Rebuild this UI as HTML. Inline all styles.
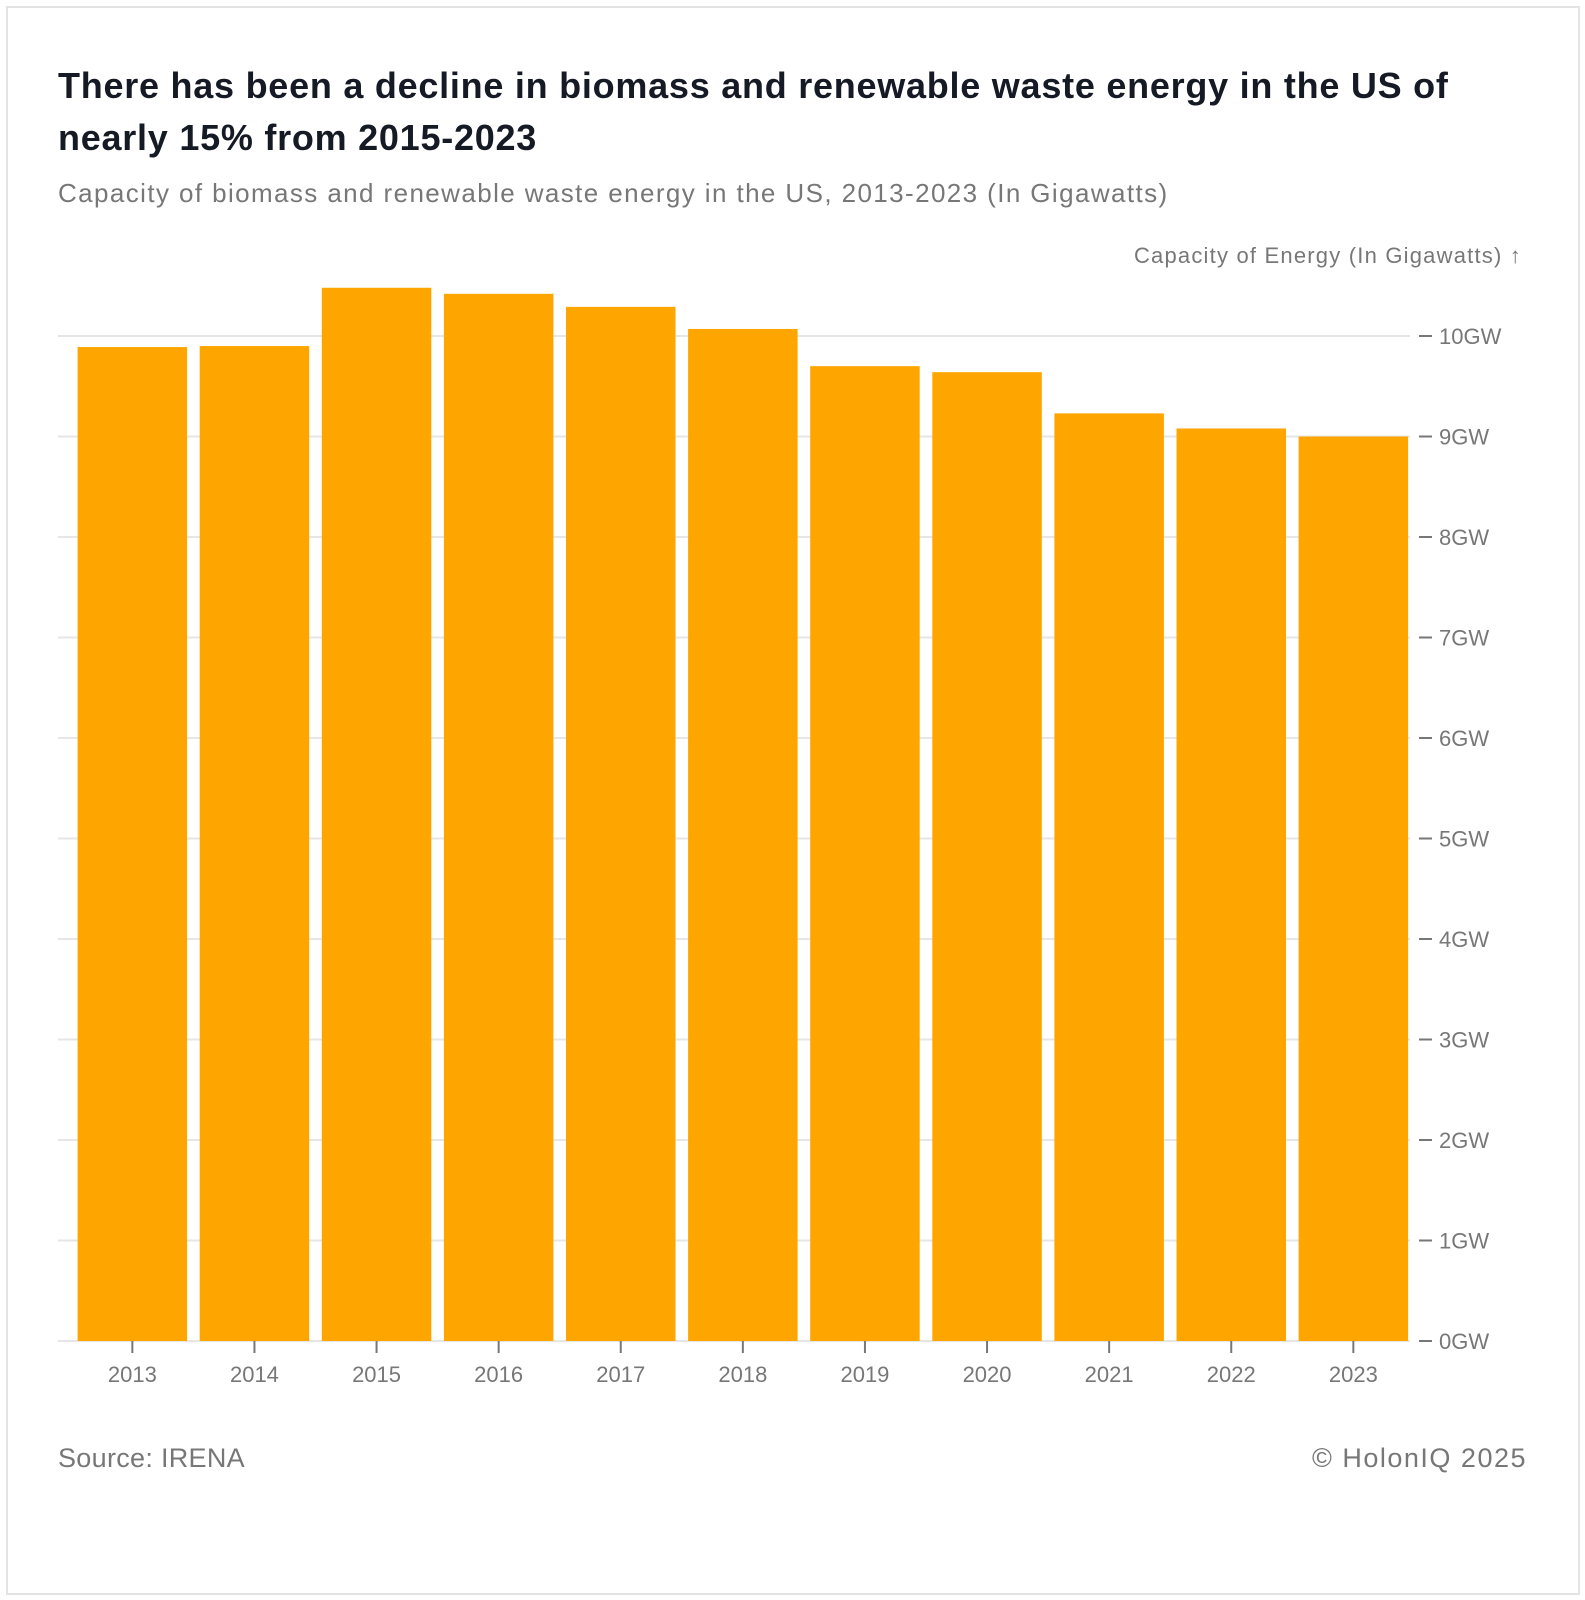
<!DOCTYPE html>
<html><head><meta charset="utf-8"><style>
body{margin:0;background:#fff;font-family:"Liberation Sans",sans-serif}
#frame{position:absolute;left:6px;top:6px;width:1570px;height:1585px;border:2px solid #e3e3e3;}
.t{position:absolute;white-space:nowrap}
</style></head><body>
<div id="frame"></div>
<div class="t" style="left:58px;top:60px;font-size:36px;line-height:52px;color:#151a24;font-weight:bold;letter-spacing:0.75px">There has been a decline in biomass and renewable waste energy in the US of<br>nearly 15% from 2015-2023</div>
<div class="t" style="left:58px;top:178px;font-size:26px;color:#777;letter-spacing:1.4px">Capacity of biomass and renewable waste energy in the US, 2013-2023 (In Gigawatts)</div>
<svg width="1585" height="1600" style="position:absolute;left:0;top:0">
<g id="grid"></g><g id="bars"></g><g id="axes"></g>
<text x="1522" y="263" text-anchor="end" font-size="22" fill="#777" letter-spacing="1.2">Capacity of Energy (In Gigawatts) ↑</text>
</svg>
<div class="t" style="left:58px;top:1443px;font-size:27px;color:#777;letter-spacing:0.3px">Source: IRENA</div>
<div class="t" style="right:58px;top:1443px;font-size:27px;color:#777;letter-spacing:1.5px">© HolonIQ 2025</div>
<script>
const years=["2013","2014","2015","2016","2017","2018","2019","2020","2021","2022","2023"];
const values=[9.89,9.90,10.48,10.42,10.29,10.07,9.70,9.64,9.23,9.08,9.00];
const yTicks=[0,1,2,3,4,5,6,7,8,9,10];
const NS="http://www.w3.org/2000/svg";
const y0=1341,pxPerUnit=100.5;
function yScale(v){return y0-v*pxPerUnit;}
const bandStart=71.5,step=122.1,barW=109.5;
function xScale(i){return bandStart+i*step+6.1;}
function mk(tag,attrs,parent){const e=document.createElementNS(NS,tag);for(const k in attrs)e.setAttribute(k,attrs[k]);parent.appendChild(e);return e;}
const grid=document.getElementById('grid'),bars=document.getElementById('bars'),axes=document.getElementById('axes');
yTicks.forEach(v=>{const y=yScale(v);
 const l=mk('line',{x1:58,x2:1410,y1:y,y2:y,stroke:'#e6e6e6','stroke-width':2},grid);
 
 
 const tk=mk('line',{x1:1419,x2:1432,y1:y,y2:y,stroke:'#777','stroke-width':2},axes);
 
 
 const t=mk('text',{x:1439,y:y+8,'font-size':22,fill:'#777'},axes);t.textContent=v+'GW';
 
 
});
years.forEach((yr,i)=>{const x=xScale(i),top=yScale(values[i]);
 const r=mk('rect',{x:x,y:top,width:barW,height:y0-top,fill:'#ffa500'},bars);
 
 
 const cx=x+barW/2;
 const tk=mk('line',{x1:cx,x2:cx,y1:y0,y2:y0+12,stroke:'#777','stroke-width':2},axes);
 
 
 const t=mk('text',{x:cx,y:y0+41,'font-size':22,fill:'#777','text-anchor':'middle'},axes);t.textContent=yr;
 
 
});
</script>
</body></html>
